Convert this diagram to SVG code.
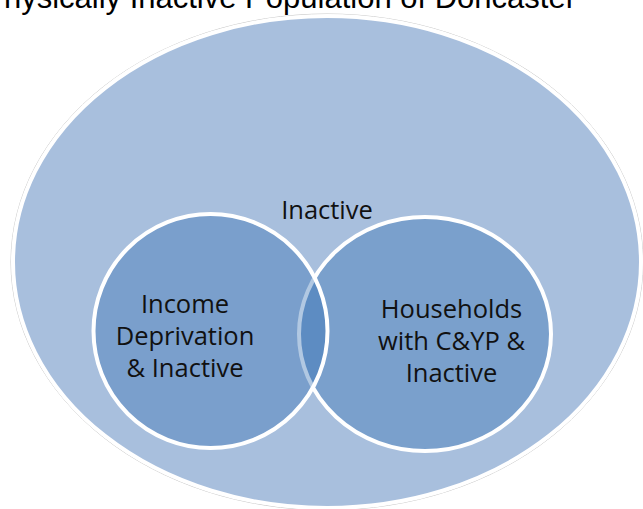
<svg xmlns="http://www.w3.org/2000/svg" width="643" height="509" viewBox="0 0 643 509">
<style>
.title{font-family:"Liberation Sans",Arial,sans-serif;font-size:31px;fill:#000}
.lbl{font-family:"Open Sans","Liberation Sans",sans-serif;font-size:25.5px;fill:#111;text-anchor:middle}
.ring{stroke:#fff;stroke-width:4}
</style>
<rect width="643" height="509" fill="#fff"/>
<text class="title" x="576" y="8" text-anchor="end">Physically Inactive Population of Doncaster</text>
<g id="outer">
<ellipse cx="327" cy="262" rx="316" ry="248" fill="none" stroke="#c8c8c8" stroke-width="1"/>
<ellipse class="ring" cx="327" cy="262" rx="314" ry="246" fill="#A8BFDD"/>
<text class="lbl" x="327" y="219">Inactive</text>
</g>
<g id="households">
<ellipse class="ring" cx="425" cy="334" rx="126" ry="117" fill="#7AA0CC"/>
</g>
<g id="income">
<circle class="ring" cx="210.5" cy="331" r="117" fill="#2C6BAF" fill-opacity="0.37"/>
<text class="lbl" x="185" y="313">Income</text>
<text class="lbl" x="185" y="345">Deprivation</text>
<text class="lbl" x="185" y="377">&amp; Inactive</text>
</g>
<g id="households-label">
<text class="lbl" x="451.5" y="318">Households</text>
<text class="lbl" x="451.5" y="350">with C&amp;YP &amp;</text>
<text class="lbl" x="451.5" y="382">Inactive</text>
</g>
<g id="connectors"></g>
</svg>
